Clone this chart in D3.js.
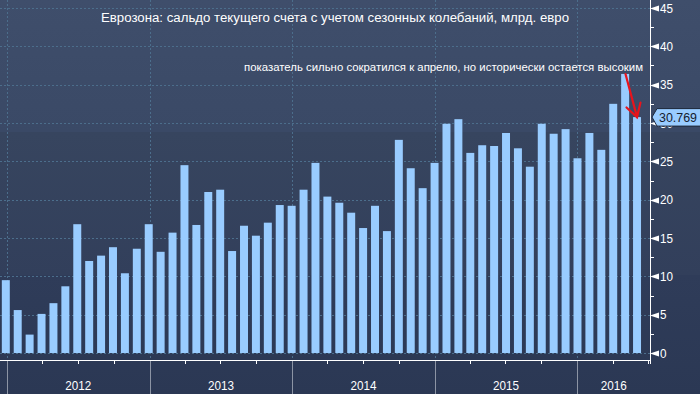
<!DOCTYPE html>
<html>
<head>
<meta charset="utf-8">
<script src="https://cdn.jsdelivr.net/npm/d3@7"></script>
<style>
body { margin: 0; background: #2c3a56; }
svg { display: block; }
text { font-family: "Liberation Sans", Arial, sans-serif; }
</style>
</head>
<body>
<svg id="chart"></svg>
<script>
var width = 700;
var height = 394;
var plotRight = 650;
var axisY = 360;

// monthly current account balance, bn EUR (Nov 2011 .. Apr 2016)
var values = [9.5, 5.6, 2.4, 5.1, 6.5, 8.7, 16.8, 12.0, 12.7, 13.8, 10.4, 13.6,
	16.8, 13.2, 15.7, 24.5, 16.7, 21.0, 21.3, 13.3, 16.6, 15.3, 17.0, 19.3,
	19.2, 21.3, 24.8, 20.4, 19.6, 18.3, 16.3, 19.2, 15.9, 27.8, 24.1, 21.5,
	24.8, 29.9, 30.5, 26.1, 27.1, 27.0, 28.7, 26.7, 24.3, 29.9, 28.6, 29.2,
	25.4, 28.7, 26.5, 32.5, 36.4, 30.769];
var months = d3.timeMonth.range(new Date(2011, 10, 1), new Date(2016, 4, 1));
var years = [2012, 2013, 2014, 2015, 2016];
var yTicks = [0, 5, 10, 15, 20, 25, 30, 35, 40, 45];
var lastValue = "30.769";
var title = "Еврозона: сальдо текущего счета с учетом сезонных колебаний, млрд. евро";
var note = "показатель сильно сократился к апрелю, но исторически остается высоким";

var svg = d3.select("#chart").attr("width", width).attr("height", height);

var y = d3.scaleLinear().domain([0, 45]).range([353, 8]);
var xBar = d3.scaleBand().domain(months)
	.range([-0.15, -0.15 + months.length * 11.91])
	.paddingInner(0.33).paddingOuter(0.165);
var xTime = d3.scaleTime()
	.domain([new Date(2012, 0, 1), new Date(2016, 0, 1)])
	.range([6.7, 577.3]);

// background bands
var defs = svg.append("defs");
var bands = [
	{ y0: 0, y1: 132, c0: "#3f4e6b", c1: "#3a4966" },
	{ y0: 132, y1: 275, c0: "#37455f", c1: "#323f5b" },
	{ y0: 275, y1: 394, c0: "#2f3c59", c1: "#2b3854" }
];
bands.forEach(function(b, i) {
	var g = defs.append("linearGradient").attr("id", "bg" + i)
		.attr("x1", 0).attr("x2", 0).attr("y1", 0).attr("y2", 1);
	g.append("stop").attr("offset", 0).attr("stop-color", b.c0);
	g.append("stop").attr("offset", 1).attr("stop-color", b.c1);
	svg.append("rect").attr("x", 0).attr("y", b.y0)
		.attr("width", width).attr("height", b.y1 - b.y0)
		.attr("fill", "url(#bg" + i + ")");
});

// grid
var grid = svg.append("g").attr("stroke", "#4c6e8c").attr("stroke-width", 1)
	.attr("stroke-dasharray", "2,2");
grid.selectAll("line.h").data(yTicks).enter().append("line")
	.attr("x1", 0).attr("x2", plotRight)
	.attr("y1", function(d) { return Math.round(y(d)) + 0.5; })
	.attr("y2", function(d) { return Math.round(y(d)) + 0.5; });
grid.selectAll("line.v").data(years).enter().append("line")
	.attr("x1", function(d) { return Math.round(xTime(new Date(d, 0, 1))) + 0.5; })
	.attr("x2", function(d) { return Math.round(xTime(new Date(d, 0, 1))) + 0.5; })
	.attr("y1", 0).attr("y2", axisY);

// bars
svg.append("g").selectAll("rect").data(values).enter().append("rect")
	.attr("x", function(d, i) { return xBar(months[i]); })
	.attr("width", xBar.bandwidth())
	.attr("y", function(d) { return y(d); })
	.attr("height", function(d) { return y(0) - y(d); })
	.attr("fill", "#99ccff");

// x axis
var xa = svg.append("g");
xa.append("line").attr("x1", 0).attr("x2", plotRight + 0.5)
	.attr("y1", axisY + 0.5).attr("y2", axisY + 0.5)
	.attr("stroke", "#ffffff").attr("stroke-width", 1);
var quarters = d3.timeMonth.every(3).range(xTime.invert(0), xTime.invert(plotRight + 1))
	.filter(function(d) { return d.getMonth() !== 0; });
xa.selectAll("line.q").data(quarters).enter().append("line")
	.attr("x1", function(d) { return Math.round(xTime(d)) + 0.5; })
	.attr("x2", function(d) { return Math.round(xTime(d)) + 0.5; })
	.attr("y1", axisY).attr("y2", axisY + 4)
	.attr("stroke", "#ffffff");
xa.selectAll("line.yr").data(years).enter().append("line")
	.attr("x1", function(d) { return Math.round(xTime(new Date(d, 0, 1))) + 0.5; })
	.attr("x2", function(d) { return Math.round(xTime(new Date(d, 0, 1))) + 0.5; })
	.attr("y1", axisY + 1).attr("y2", height)
	.attr("stroke", "#8c94a4");
xa.selectAll("text").data(years).enter().append("text")
	.attr("x", function(d) {
		var a = Math.max(0, xTime(new Date(d, 0, 1)));
		var b = Math.min(plotRight, xTime(new Date(d + 1, 0, 1)));
		return (a + b) / 2;
	})
	.attr("y", 390)
	.attr("text-anchor", "middle")
	.attr("font-size", 13.5)
	.attr("textLength", 26).attr("lengthAdjust", "spacingAndGlyphs")
	.attr("fill", "#ffffff")
	.text(function(d) { return d; });

// y axis
var ya = svg.append("g");
ya.append("line").attr("x1", plotRight + 0.5).attr("x2", plotRight + 0.5)
	.attr("y1", 0).attr("y2", axisY + 4)
	.attr("stroke", "#ffffff");
var minor = d3.range(2.5, 45, 5);
ya.selectAll("line.m").data(minor).enter().append("line")
	.attr("x1", plotRight).attr("x2", plotRight + 4)
	.attr("y1", function(d) { return Math.round(y(d)) + 0.5; })
	.attr("y2", function(d) { return Math.round(y(d)) + 0.5; })
	.attr("stroke", "#ffffff");
ya.selectAll("path").data(yTicks).enter().append("path")
	.attr("d", function(d) {
		var yy = Math.round(y(d)) + 0.5;
		return "M" + plotRight + "," + yy + "L" + (plotRight + 9) + "," + (yy - 3) +
			"L" + (plotRight + 9) + "," + (yy + 3) + "Z";
	})
	.attr("fill", "#ffffff");
ya.selectAll("text").data(yTicks).enter().append("text")
	.attr("x", 660)
	.attr("y", function(d) { return y(d) + 4.5; })
	.attr("font-size", 12.5)
	.attr("textLength", function(d) { return String(d).length * 6.5; })
	.attr("lengthAdjust", "spacingAndGlyphs")
	.attr("fill", "#ffffff")
	.text(function(d) { return d; });

// last value tag
var ly = y(values[values.length - 1]);
var tag = svg.append("g");
tag.append("path")
	.attr("d", "M652," + ly + "L657," + (ly - 8.5) + "L702," + (ly - 8.5) +
		"L702," + (ly + 9) + "L657," + (ly + 9) + "Z")
	.attr("fill", "#99ccff").attr("stroke", "#1c2638").attr("stroke-width", 1);
tag.append("text").attr("x", 659).attr("y", ly + 5)
	.attr("font-size", 13)
	.attr("textLength", 38).attr("lengthAdjust", "spacingAndGlyphs")
	.attr("fill", "#15202f")
	.text(lastValue);

// titles
svg.append("text").attr("x", 101).attr("y", 22)
	.attr("font-size", 12.5)
	.attr("textLength", 468).attr("lengthAdjust", "spacingAndGlyphs")
	.attr("fill", "#ffffff")
	.text(title);
svg.append("text").attr("x", 244).attr("y", 71)
	.attr("font-size", 11.5)
	.attr("textLength", 399).attr("lengthAdjust", "spacingAndGlyphs")
	.attr("fill", "#ffffff")
	.text(note);

// red arrow to the last bar
var tipX = xBar(months[53]) + xBar.bandwidth() / 2;
var tipY = ly;
var arrow = svg.append("g").attr("stroke", "#e8141c").attr("stroke-width", 2.2)
	.attr("fill", "none").attr("stroke-linecap", "round");
arrow.append("line").attr("x1", 625.5).attr("y1", 74).attr("x2", tipX).attr("y2", tipY);
arrow.append("polyline")
	.attr("points", [[626.5, 107.5], [tipX, tipY], [640.5, 102.5]].join(" "));
</script>
</body>
</html>
